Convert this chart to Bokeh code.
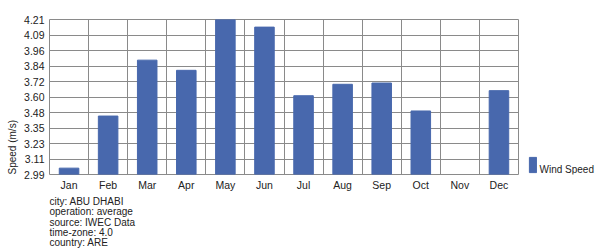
from bokeh.plotting import figure
from bokeh.layouts import row
from bokeh.models import (ColumnDataSource, FixedTicker, Range1d, Title, Legend, LegendItem, Label)
from bokeh.embed import file_html
from bokeh.resources import INLINE

months = ["Jan", "Feb", "Mar", "Apr", "May", "Jun", "Jul", "Aug", "Sep", "Oct", "Nov", "Dec"]
wind_speed = [3.04, 3.45, 3.89, 3.81, 4.21, 4.15, 3.61, 3.70, 3.71, 3.49, None, 3.65]
y_tick_labels = ["2.99", "3.11", "3.23", "3.35", "3.48", "3.60", "3.72", "3.84", "3.96", "4.09", "4.21"]
info_lines = ["city: ABU DHABI", "operation: average", "source: IWEC Data", "time-zone: 4.0", "country: ARE"]
series_name = "Wind Speed"
y_title = "Speed (m/s)"

y_min, y_max = 2.99, 4.21
y_ticks = [y_min + i * (y_max - y_min) / 10 for i in range(11)]

xs = [i + 0.5 for i in range(len(months))]
bx = [x for x, v in zip(xs, wind_speed) if v is not None]
bv = [v for v in wind_speed if v is not None]
src = ColumnDataSource(dict(x=bx, top=bv))

FONT = "Liberation Sans"
BAR = "#4868ad"
GRID = "#8a8a8a"
TXT = "#222222"

p = figure(width=519, height=252, output_backend="svg", toolbar_location=None,
           x_range=Range1d(0, 12), y_range=Range1d(y_min, y_max),
           min_border_left=49, min_border_right=1, min_border_top=19, min_border_bottom=78)
p.background_fill_color = "white"
p.border_fill_color = "white"
p.outline_line_color = GRID
p.outline_line_width = 1

r = p.vbar(x="x", top="top", bottom=y_min, width=0.5, source=src,
           fill_color=BAR, line_color=BAR)

# axes
p.xaxis.ticker = FixedTicker(ticks=xs)
p.xaxis.major_label_overrides = {x: m for x, m in zip(xs, months)}
p.yaxis.ticker = FixedTicker(ticks=y_ticks)
p.yaxis.major_label_overrides = {t: s for t, s in zip(y_ticks, y_tick_labels)}
for ax in (p.xaxis[0], p.yaxis[0]):
    ax.axis_line_color = None
    ax.major_tick_line_color = None
    ax.minor_tick_line_color = None
    ax.major_tick_out = 0
    ax.major_label_text_font = FONT
    ax.major_label_text_font_size = "10.5px"
    ax.major_label_text_color = TXT
p.yaxis.major_label_standoff = 5
p.xaxis.major_label_standoff = 4

# grid
p.xgrid.ticker = FixedTicker(ticks=list(range(1, 12)))
p.xgrid.grid_line_color = GRID
p.ygrid.ticker = FixedTicker(ticks=y_ticks)
p.ygrid.grid_line_color = GRID

# y axis title, aligned with the bottom of the frame
p.add_layout(Title(text=y_title, align="left", text_font=FONT, text_font_size="10px",
                   text_font_style="normal", text_color=TXT, standoff=8), "left")

# info block below the x axis
p.add_layout(Title(text="\n".join(info_lines), align="left", text_font=FONT,
                   text_font_size="10px", text_font_style="normal", text_color=TXT,
                   text_line_height=0.95, standoff=0), "below")

# legend panel (its frame is aligned with the main frame by the row layout)
lg = figure(width=77, height=252, output_backend="svg", toolbar_location=None,
            x_range=Range1d(0, 1), y_range=Range1d(0, 1),
            x_axis_location=None, y_axis_location=None,
            min_border=0, min_border_left=0, min_border_right=0,
            min_border_top=0, min_border_bottom=0)
lg.outline_line_color = None
lg.grid.visible = False
lg.background_fill_color = "white"
lg.border_fill_color = "white"
# hidden renderer that only provides the legend swatch style
dummy = lg.vbar(x=[-5.0], top=[-1.0], bottom=-2.0, width=0.5, fill_color=BAR, line_color=BAR)
dummy.visible = False
legend = Legend(items=[LegendItem(label="", renderers=[dummy])],
                location=(9, 0), glyph_width=9, glyph_height=19, label_height=19,
                label_width=0, label_standoff=0, padding=0, margin=0, border_line_color=None,
                background_fill_alpha=0, label_text_font=FONT, label_text_font_size="10px",
                label_text_color=TXT, click_policy="none")
lg.add_layout(legend, "center")
# legend text, sitting on the bottom of the swatch
lg.add_layout(Label(x=20, y=0, x_units="screen", y_units="screen", text=series_name,
                    text_font=FONT, text_font_size="10px", text_color=TXT,
                    text_baseline="bottom", text_align="left"))

layout = row(p, lg, spacing=0)
open("out.html", "w").write(file_html(layout, INLINE))
